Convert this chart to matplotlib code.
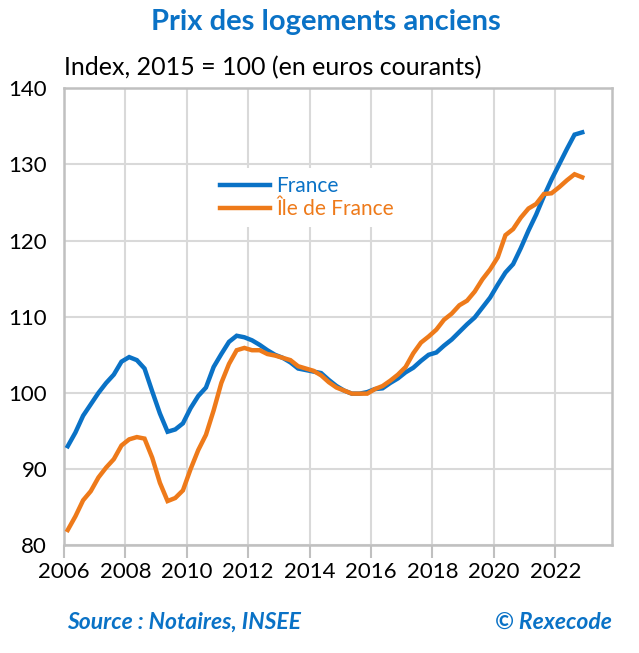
import numpy as np
import matplotlib
matplotlib.use('Agg')
import matplotlib.pyplot as plt

# Données trimestrielles 2006T1 - 2022T4 (indice 2015 = 100)
start_year = 2006
france = [93.0, 94.8, 97.0, 98.5, 100.0, 101.3, 102.4, 104.1,
          104.7, 104.3, 103.2, 100.2, 97.3, 94.9, 95.2, 96.0,
          98.0, 99.6, 100.7, 103.4, 105.1, 106.7, 107.5, 107.3,
          106.9, 106.3, 105.6, 105.0, 104.6, 104.0, 103.2, 103.0,
          102.8, 102.6, 101.7, 100.9, 100.3, 99.9, 99.9, 100.1,
          100.5, 100.6, 101.3, 101.9, 102.7, 103.3, 104.2, 105.0,
          105.3, 106.2, 107.0, 108.0, 109.0, 109.9, 111.2, 112.5,
          114.2, 115.8, 116.9, 119.0, 121.3, 123.4, 125.8, 128.0,
          130.0, 132.0, 133.9, 134.2]
idf = [82.0, 83.8, 85.9, 87.1, 88.9, 90.2, 91.3, 93.1,
       93.9, 94.2, 94.0, 91.5, 88.2, 85.8, 86.2, 87.2,
       90.0, 92.5, 94.5, 97.7, 101.3, 103.8, 105.6, 105.9,
       105.6, 105.6, 105.1, 104.9, 104.6, 104.3, 103.5, 103.2,
       102.9, 102.3, 101.4, 100.7, 100.3, 99.9, 99.9, 99.9,
       100.5, 100.9, 101.6, 102.4, 103.4, 105.2, 106.6, 107.4,
       108.3, 109.6, 110.4, 111.5, 112.1, 113.3, 114.9, 116.2,
       117.8, 120.7, 121.5, 123.0, 124.2, 124.8, 126.1, 126.2,
       127.0, 127.9, 128.7, 128.3]
x_ticks = list(range(2006, 2023, 2))
y_ticks = [80, 90, 100, 110, 120, 130, 140]

BLUE = '#0A72C6'
ORANGE = '#EE7A1A'
GRID = '#d9d9d9'

plt.rcParams['font.family'] = ['Lato', 'DejaVu Sans']

# position des trimestres au milieu de chaque trimestre
t = start_year + 0.125 + 0.25 * np.arange(len(france))

fig = plt.figure(figsize=(6.39, 6.53), dpi=100)
ax = fig.add_axes([0.100, 0.165, 0.858, 0.700])

ax.plot(t, france, color=BLUE, lw=3.2, label='France', solid_joinstyle='miter', zorder=3)
ax.plot(t, idf, color=ORANGE, lw=3.2, label='Île de France', solid_joinstyle='miter', zorder=3)

ax.set_xlim(2006, 2023.85)
ax.set_ylim(80, 140)
ax.set_xticks(x_ticks)
ax.set_yticks(y_ticks)
ax.grid(True, color=GRID, lw=1.5)
ax.set_axisbelow(True)
for s in ax.spines.values():
    s.set_color('#c0c0c0')
    s.set_linewidth(1.8)
ax.tick_params(axis='x', length=9, width=1.5, color='#c0c0c0', labelsize=16, pad=3)
ax.tick_params(axis='y', length=0, labelsize=16, pad=12)

leg = ax.legend(loc='upper left', bbox_to_anchor=(0.269, 0.825), frameon=True,
                fontsize=15, handlelength=2.4, handletextpad=0.3,
                labelspacing=0.12, borderpad=0.4, borderaxespad=0,
                fancybox=False)
leg.get_frame().set_edgecolor('none')
leg.get_frame().set_facecolor('white')
leg.get_frame().set_alpha(1)
for txt, c in zip(leg.get_texts(), [BLUE, ORANGE]):
    txt.set_color(c)

fig.text(0.51, 0.967, 'Prix des logements anciens', color=BLUE, fontsize=21,
         fontweight='bold', ha='center', va='center')
fig.text(0.100, 0.897, 'Index, 2015 = 100 (en euros courants)', color='black',
         fontsize=18, ha='left', va='center')
fig.text(0.105, 0.047, 'Source : Notaires, INSEE', color=BLUE, fontsize=16.5,
         fontweight='bold', style='italic', ha='left', va='center')
fig.text(0.958, 0.047, '© Rexecode', color=BLUE, fontsize=16.5,
         fontweight='bold', style='italic', ha='right', va='center')

fig.savefig('out.png', dpi=100)
